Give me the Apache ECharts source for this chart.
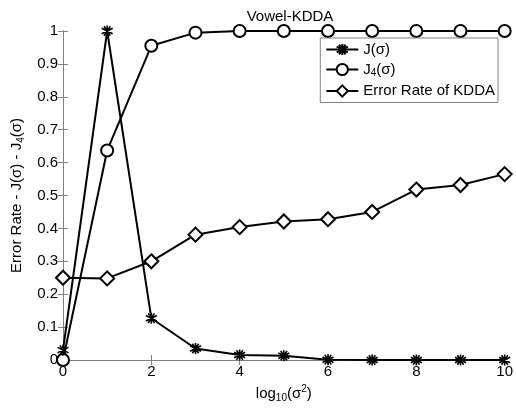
<!DOCTYPE html>
<html><head><meta charset="utf-8">
<script src="https://cdn.jsdelivr.net/npm/echarts@6/dist/echarts.min.js"></script>
<style>html,body{margin:0;padding:0;background:#fff}#c{width:516px;height:411px}</style>
</head><body><div id="c"></div>
<script>
const xVals = [0,1,2,3,4,5,6,7,8,9,10];
const jVals = [0.03,1.0,0.127,0.035,0.015,0.013,0.001,0,0,0,0];
const j4Vals = [0,0.637,0.955,0.995,1.0,1.0,1.0,1.0,1.0,1.0,1.0];
const errVals = [0.25,0.248,0.30,0.381,0.404,0.421,0.428,0.45,0.518,0.532,0.565];
const seriesNames = ['J(σ)','J4(σ)','Error Rate of KDDA'];

const star = 'path://M0,-1L0,1M-0.87,-0.5L0.87,0.5M-0.87,0.5L0.87,-0.5M-0.5,-0.87L0.5,0.87M0.5,-0.87L-0.5,0.87';
const font = 'Liberation Sans, Arial, sans-serif';
const fs = 15;
const pairs = a => xVals.map((x,i)=>[x,a[i]]);
const axisGray = '#808080';
const chart = echarts.init(document.getElementById('c'));
chart.setOption({
  animation:false,
  title:{text:'Vowel-KDDA',left:285,top:4,textAlign:'center',textStyle:{fontFamily:font,fontSize:fs,fontWeight:'normal',color:'#000'}},
  grid:{left:63,right:8,top:31,bottom:51},
  legend:{
    right:18,top:38,orient:'vertical',itemWidth:32,itemHeight:14,itemGap:5,
    backgroundColor:'#fff',borderColor:axisGray,borderWidth:1,padding:[4,3,4,5],
    textStyle:{fontFamily:font,fontSize:fs,color:'#000',
      rich:{n:{fontFamily:font,fontSize:fs},s:{fontFamily:font,fontSize:10,verticalAlign:'bottom',padding:[8,0,0,0]}}},
    formatter:function(n){ if(n==='J4(σ)') return '{n|J}{s|4}{n|(σ)}'; return n; },
    data:seriesNames
  },
  xAxis:[{type:'value',min:0,max:10,interval:2,
    axisLine:{lineStyle:{color:axisGray}},axisTick:{inside:true,length:5,lineStyle:{color:axisGray}},
    axisLabel:{color:'#000',fontFamily:font,fontSize:fs,margin:4},splitLine:{show:false},
    name:'{n|log}{s|10}{n|(σ}{p|2}{n|)}',nameLocation:'middle',nameGap:22,
    nameTextStyle:{rich:{n:{fontFamily:font,fontSize:fs,color:'#000'},s:{fontFamily:font,fontSize:10,color:'#000',verticalAlign:'bottom',padding:[9,0,0,0]},p:{fontFamily:font,fontSize:10,color:'#000',padding:[0,0,9,0]}}}},
   {type:'value',min:0,max:10,interval:2,position:'top',
    axisLine:{lineStyle:{color:axisGray}},axisTick:{inside:true,length:5,lineStyle:{color:axisGray}},axisLabel:{show:false},splitLine:{show:false}}],
  yAxis:[{type:'value',min:0,max:1,interval:0.1,
    axisLine:{show:true,lineStyle:{color:axisGray}},axisTick:{show:true,inside:true,length:5,lineStyle:{color:axisGray}},
    axisLabel:{color:'#000',fontFamily:font,fontSize:fs,margin:5},splitLine:{show:false},
    name:'{n|Error Rate - J(σ) - J}{s|4}{n|(σ)}',nameLocation:'middle',nameGap:28,
    nameTextStyle:{rich:{n:{fontFamily:font,fontSize:fs,color:'#000'},s:{fontFamily:font,fontSize:10,color:'#000',verticalAlign:'bottom',padding:[9,0,0,0]}}}},
   {type:'value',min:0,max:1,interval:0.1,position:'right',
    axisLine:{show:true,lineStyle:{color:axisGray}},axisTick:{show:true,inside:true,length:5,lineStyle:{color:axisGray}},axisLabel:{show:false},splitLine:{show:false}}],
  series:[
    {name:seriesNames[0],type:'line',data:pairs(jVals),symbol:star,symbolSize:11,
     lineStyle:{color:'#000',width:2},itemStyle:{color:'#000',borderColor:'#000',borderWidth:1.6},z:3},
    {name:seriesNames[1],type:'line',data:pairs(j4Vals),symbol:'emptyCircle',symbolSize:12,
     lineStyle:{color:'#000',width:2},itemStyle:{color:'#000',borderColor:'#000',borderWidth:2},z:2},
    {name:seriesNames[2],type:'line',data:pairs(errVals),symbol:'emptyDiamond',symbolSize:14,
     lineStyle:{color:'#000',width:2},itemStyle:{color:'#000',borderColor:'#000',borderWidth:1.5},z:2}
  ]
});
</script></body></html>
